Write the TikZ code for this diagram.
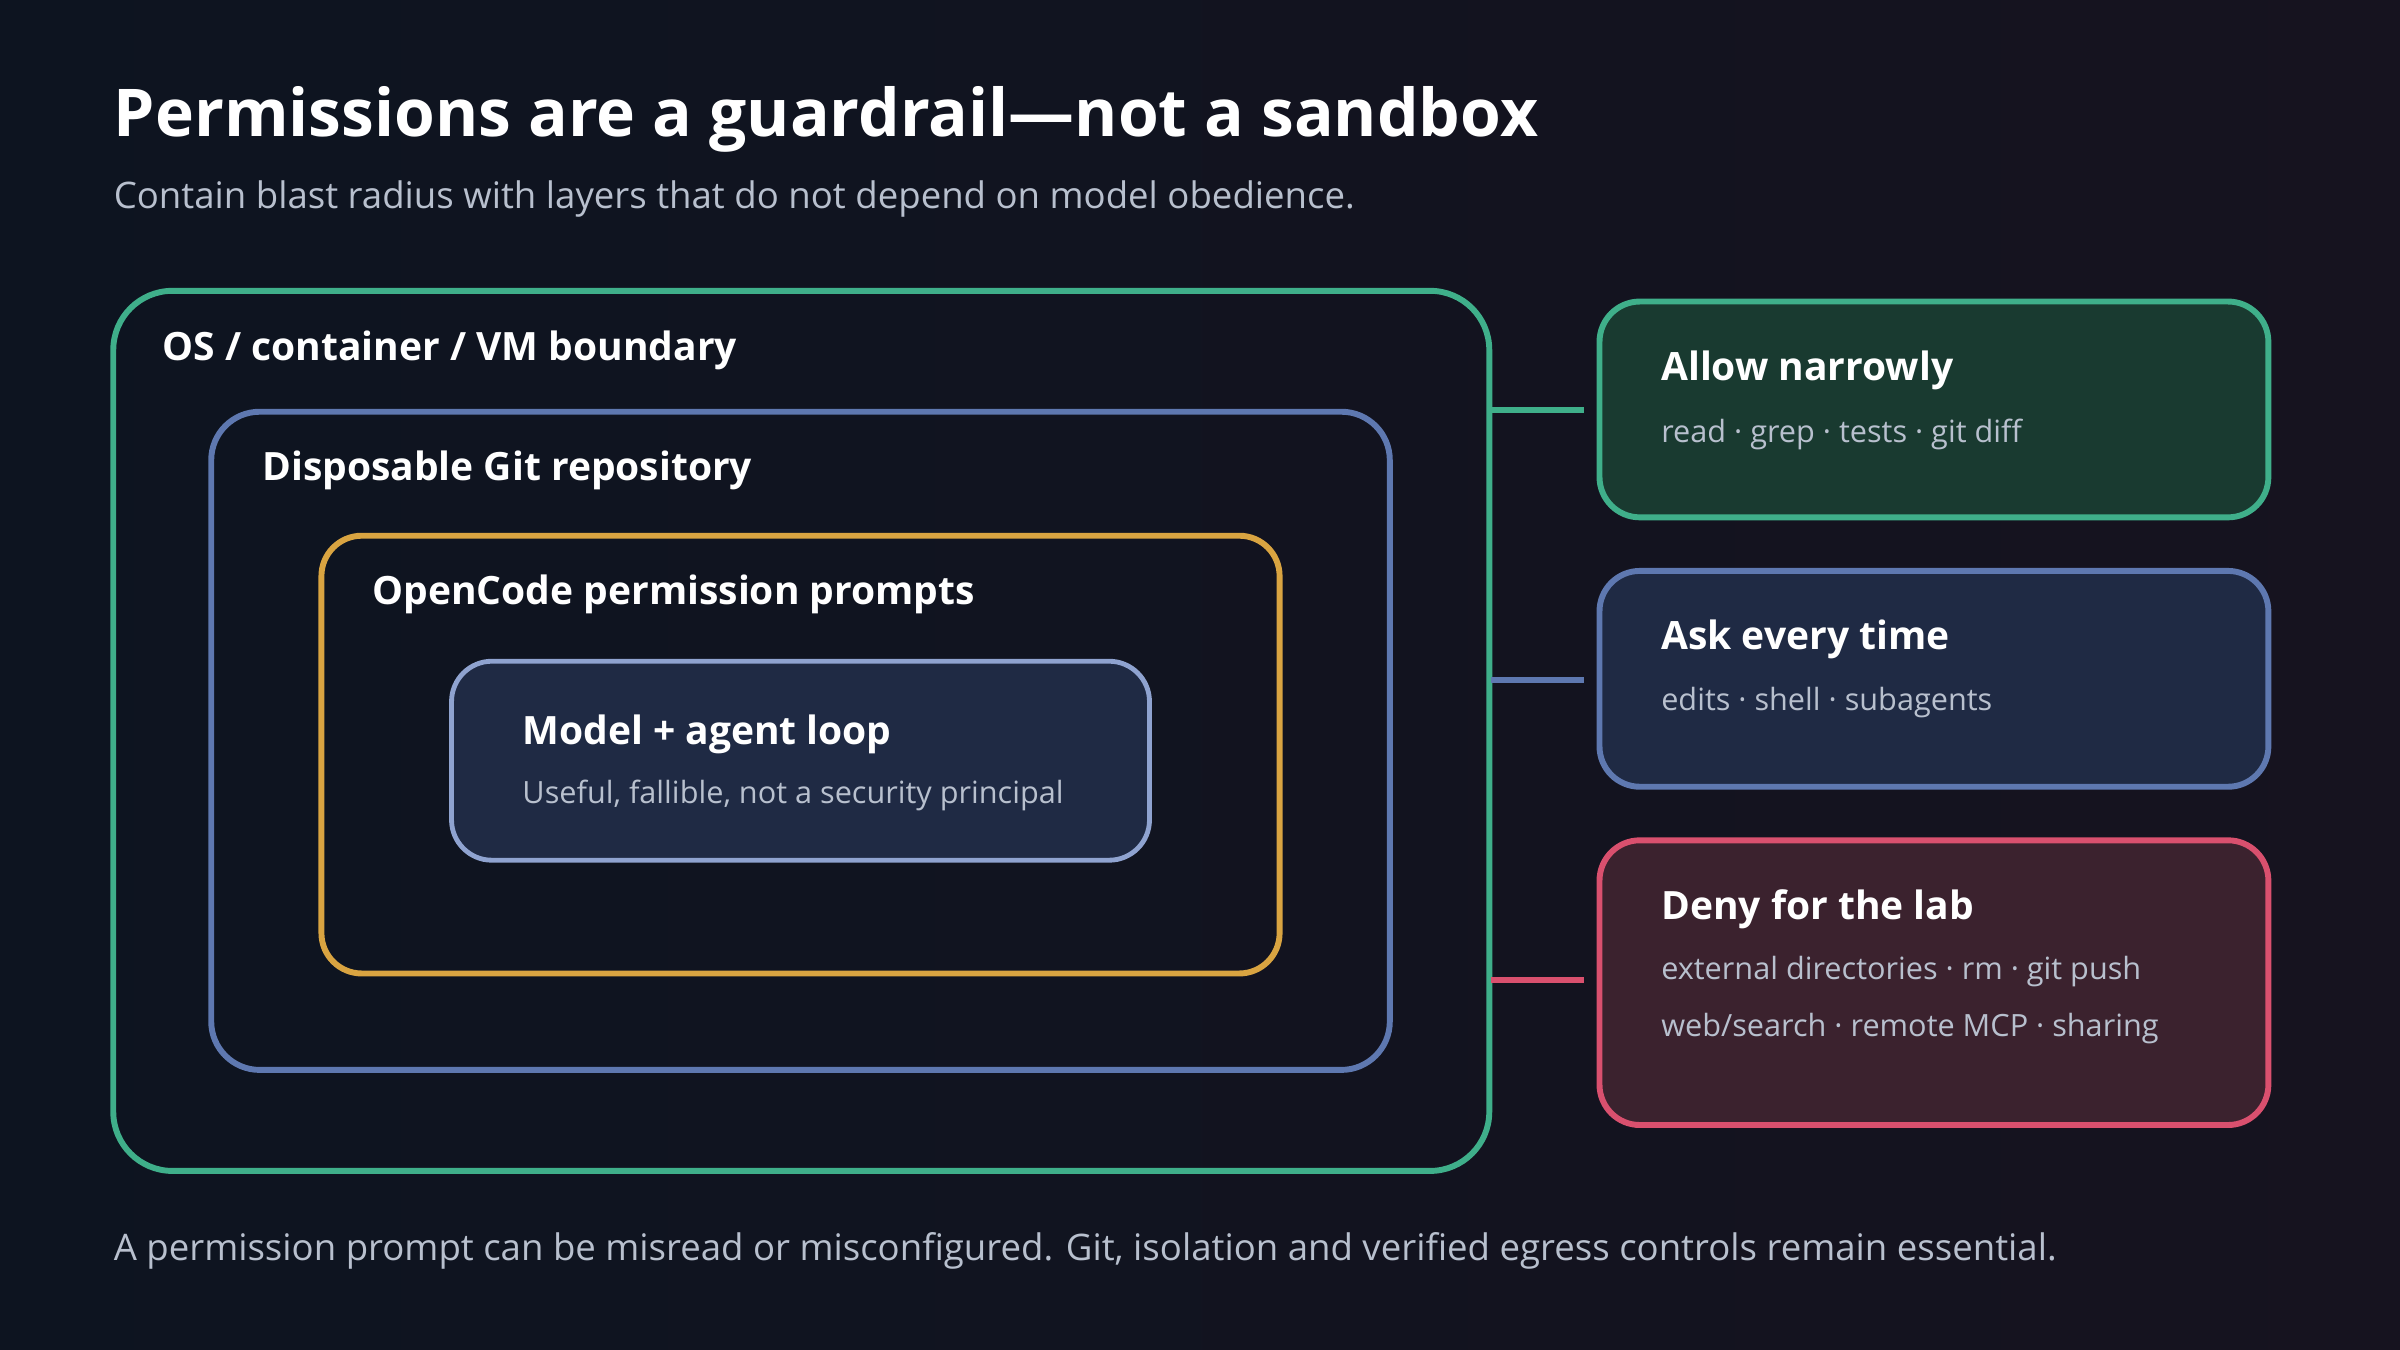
\documentclass[tikz,border=0pt]{standalone}
\usepackage{fontspec}
\setmainfont{Open Sans}
\begin{document}
\definecolor{bgA}{HTML}{0D1420}
\definecolor{bgB}{HTML}{16131F}
\definecolor{gr}{HTML}{3FAF8A}
\definecolor{bl}{HTML}{5E78B0}
\definecolor{ye}{HTML}{D9A441}
\definecolor{rd}{HTML}{D9506E}
\definecolor{inb}{HTML}{8FA3D0}
\definecolor{infill}{HTML}{1F2A44}
\definecolor{grfill}{HTML}{193A30}
\definecolor{blfill}{HTML}{1F2A44}
\definecolor{rdfill}{HTML}{3B222E}
\definecolor{sub}{HTML}{B8C0CE}
\begin{tikzpicture}[x=0.02cm,y=-0.02cm,inner sep=0pt,
 lay/.style={line width=2.2pt,rounded corners=15pt},
 lab/.style={anchor=west,text=white,font=\fontsize{14.5}{16}\selectfont\bfseries},
 sm/.style={anchor=west,text=sub,font=\fontsize{11.4}{13}\selectfont},
 con/.style={line width=2.2pt}]
\shade[left color=bgA,right color=bgB] (0,0) rectangle (1568,882);
\useasboundingbox (0,0) rectangle (1568,882);
\node[anchor=west,text=white,font=\fontsize{24.5}{28}\selectfont\bfseries] (t) at (74,78) {Permissions are a guardrail—not a sandbox};
\node[anchor=west,text=sub,font=\fontsize{13.6}{15}\selectfont] (st) at (74,130) {Contain blast radius with layers that do not depend on model obedience.};
\draw[lay,gr,rounded corners=22pt] (74,190) rectangle (973,765);
\node[lab] (l1) at (106,229) {OS / container / VM boundary};
\draw[lay,bl,rounded corners=18pt] (138,269) rectangle (908,699);
\node[lab] (l2) at (171,307) {Disposable Git repository};
\draw[lay,ye] (210,350) rectangle (836,636);
\node[lab] (l3) at (243,388) {OpenCode permission prompts};
\draw[lay,inb,fill=infill,line width=1.8pt] (295,432) rectangle (751,562);
\node[lab] (l4) at (341,480) {Model + agent loop};
\node[sm] (s4) at (341,520) {Useful, fallible, not a security principal};
\draw[lay,gr,fill=grfill] (1045,197) rectangle (1482,338);
\node[lab] (a) at (1085,242) {Allow narrowly};
\node[sm] at (1085,284) {read · grep · tests · git diff};
\draw[lay,bl,fill=blfill] (1045,373) rectangle (1482,514);
\node[lab] (b) at (1085,418) {Ask every time};
\node[sm] at (1085,459) {edits · shell · subagents};
\draw[lay,rd,fill=rdfill] (1045,549) rectangle (1482,735);
\node[lab] (c) at (1085,594) {Deny for the lab};
\node[sm] at (1085,635) {external directories · rm · git push};
\node[sm] at (1085,672) {web/search · remote MCP · sharing};
\coordinate (c1a) at (974,268); \coordinate (c1b) at (1035,268);
\coordinate (c2a) at (974,444); \coordinate (c2b) at (1035,444);
\coordinate (c3a) at (974,640); \coordinate (c3b) at (1035,640);
\draw[con,gr] (c1a) -- (c1b);
\draw[con,bl] (c2a) -- (c2b);
\draw[con,rd] (c3a) -- (c3b);
\node[anchor=west,text=sub,font=\fontsize{13.6}{15}\selectfont] (f) at (74,817) {A permission prompt can be misread or misconfigured. Git, isolation and verified egress controls remain essential.};
\end{tikzpicture}
\end{document}
